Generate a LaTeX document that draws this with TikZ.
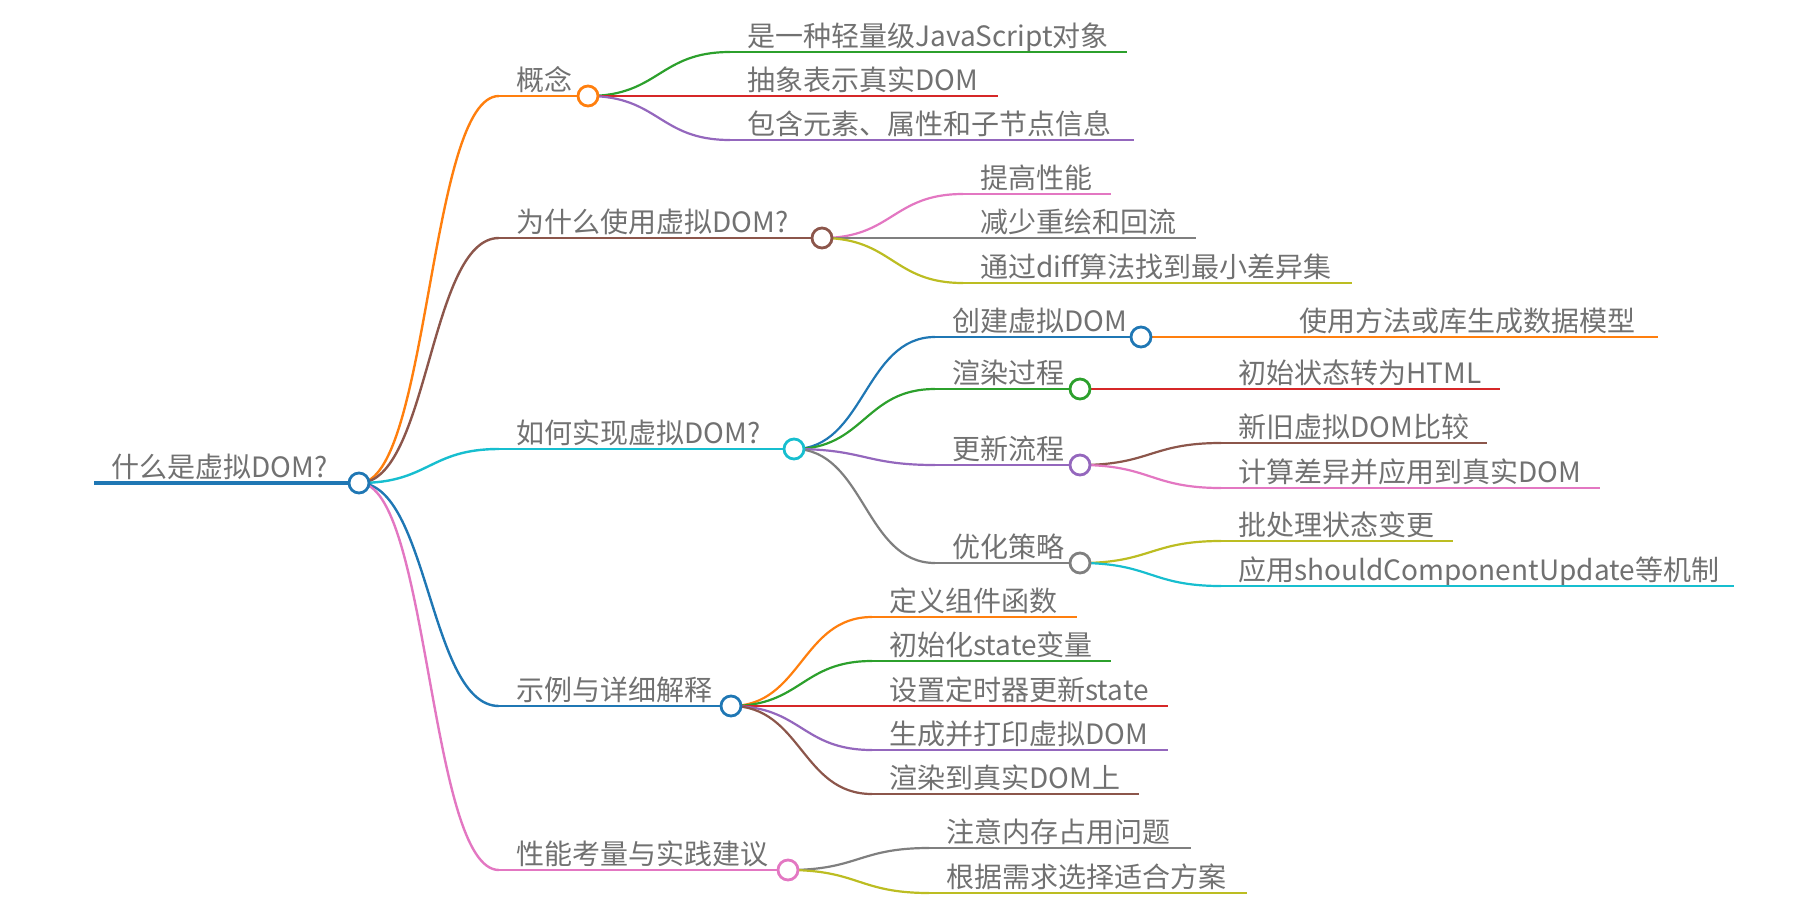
\documentclass[tikz,border=0pt]{standalone}
\usepackage{fontspec}
\newfontfamily\cjk{Noto Sans CJK SC}
\usetikzlibrary{calc,backgrounds}
\definecolor{cblue}{HTML}{1F77B4}
\definecolor{corange}{HTML}{FF7F0E}
\definecolor{cgreen}{HTML}{2CA02C}
\definecolor{cred}{HTML}{D62728}
\definecolor{cpurple}{HTML}{9467BD}
\definecolor{cbrown}{HTML}{8C564B}
\definecolor{cpink}{HTML}{E377C2}
\definecolor{cgray}{HTML}{7F7F7F}
\definecolor{colive}{HTML}{BCBD22}
\definecolor{ccyan}{HTML}{17BECF}
\definecolor{txtgray}{HTML}{717171}
\tikzset{
  lbl/.style={anchor=base west, inner sep=0pt, text=txtgray, font=\cjk\fontsize{14pt}{16pt}\selectfont},
  dot/.style={circle, draw=#1, fill=white, line width=1.4pt, minimum size=10pt, inner sep=0pt},
}
% hub: name, startx, circlex, y, color, width, text
\newcommand\hub[7]{%
  \coordinate (#1-s) at (#2,#4);
  \node[dot=#5] (#1) at (#3,#4) {};
  \node[lbl] (#1-t) at ({#2+17},{#4-6}) {#7};
  \begin{scope}[on background layer]
    \draw[#5, line width=#6] (#1-s) -- (#1.center);
  \end{scope}
}
% leaf: name, startx, endx, y, color, width, text
\newcommand\leaf[7]{%
  \coordinate (#1-s) at (#2,#4);
  \coordinate (#1-e) at (#3,#4);
  \node[lbl] (#1-t) at ({#2+17},{#4-6}) {#7};
  \draw[#5, line width=#6] (#1-s) -- (#1-e);
}
% link: parent, child, color, width
\newcommand\lnk[4]{%
  \begin{scope}[on background layer]
    \draw[#3, line width=#4] let \p1=(#1.center), \p2=(#2-s) in
      (\p1) .. controls ({0.5*\x1+0.5*\x2},\y1) and ({0.5*\x1+0.5*\x2},\y2) .. (\p2);
  \end{scope}
}
\begin{document}
\begin{tikzpicture}[x=0.5pt, y=-0.5pt]
\useasboundingbox (0,0) rectangle (1804,900);

% root
\hub{R}{94}{359}{483}{cblue}{1.7pt}{什么是虚拟DOM?}

% level 1
\hub{A}{499}{588}{96}{corange}{1.4pt}{概念}
\hub{B}{499}{822}{238}{cbrown}{1.4pt}{为什么使用虚拟DOM?}
\hub{C}{499}{794}{449}{ccyan}{1.4pt}{如何实现虚拟DOM?}
\hub{D}{499}{731}{706}{cblue}{1.4pt}{示例与详细解释}
\hub{E}{499}{788}{870}{cpink}{1.4pt}{性能考量与实践建议}
\lnk{R}{A}{corange}{1.2pt}
\lnk{R}{B}{cbrown}{1.2pt}
\lnk{R}{C}{ccyan}{1.2pt}
\lnk{R}{D}{cblue}{1.2pt}
\lnk{R}{E}{cpink}{1.2pt}

% under 概念
\leaf{A1}{730}{1127}{52}{cgreen}{1.15pt}{是一种轻量级JavaScript对象}
\leaf{A2}{730}{998}{96}{cred}{1.15pt}{抽象表示真实DOM}
\leaf{A3}{730}{1134}{140}{cpurple}{1.15pt}{包含元素、属性和子节点信息}
\lnk{A}{A1}{cgreen}{1.1pt}
\lnk{A}{A2}{cred}{1.1pt}
\lnk{A}{A3}{cpurple}{1.1pt}

% under 为什么使用虚拟DOM?
\leaf{B1}{963}{1111}{194}{cpink}{1.15pt}{提高性能}
\leaf{B2}{963}{1196}{238}{cgray}{1.15pt}{减少重绘和回流}
\leaf{B3}{963}{1352}{283}{colive}{1.15pt}{通过diff算法找到最小差异集}
\lnk{B}{B1}{cpink}{1.1pt}
\lnk{B}{B2}{cgray}{1.1pt}
\lnk{B}{B3}{colive}{1.1pt}

% under 如何实现虚拟DOM?
\hub{C1}{935}{1141}{337}{cblue}{1.15pt}{创建虚拟DOM}
\hub{C2}{935}{1080}{389}{cgreen}{1.15pt}{渲染过程}
\hub{C3}{935}{1080}{465}{cpurple}{1.15pt}{更新流程}
\hub{C4}{935}{1080}{563}{cgray}{1.15pt}{优化策略}
\lnk{C}{C1}{cblue}{1.1pt}
\lnk{C}{C2}{cgreen}{1.1pt}
\lnk{C}{C3}{cpurple}{1.1pt}
\lnk{C}{C4}{cgray}{1.1pt}

\leaf{C1a}{1282}{1658}{337}{corange}{1.15pt}{使用方法或库生成数据模型}
\leaf{C2a}{1221}{1500}{389}{cred}{1.15pt}{初始状态转为HTML}
\leaf{C3a}{1221}{1487}{443}{cbrown}{1.15pt}{新旧虚拟DOM比较}
\leaf{C3b}{1221}{1600}{488}{cpink}{1.15pt}{计算差异并应用到真实DOM}
\leaf{C4a}{1221}{1453}{541}{colive}{1.15pt}{批处理状态变更}
\leaf{C4b}{1221}{1734}{586}{ccyan}{1.15pt}{应用shouldComponentUpdate等机制}
\lnk{C1}{C1a}{corange}{1.1pt}
\lnk{C2}{C2a}{cred}{1.1pt}
\lnk{C3}{C3a}{cbrown}{1.1pt}
\lnk{C3}{C3b}{cpink}{1.1pt}
\lnk{C4}{C4a}{colive}{1.1pt}
\lnk{C4}{C4b}{ccyan}{1.1pt}

% under 示例与详细解释
\leaf{D1}{872}{1077}{617}{corange}{1.15pt}{定义组件函数}
\leaf{D2}{872}{1111}{661}{cgreen}{1.15pt}{初始化state变量}
\leaf{D3}{872}{1168}{706}{cred}{1.15pt}{设置定时器更新state}
\leaf{D4}{872}{1168}{750}{cpurple}{1.15pt}{生成并打印虚拟DOM}
\leaf{D5}{872}{1139}{794}{cbrown}{1.15pt}{渲染到真实DOM上}
\lnk{D}{D1}{corange}{1.1pt}
\lnk{D}{D2}{cgreen}{1.1pt}
\lnk{D}{D3}{cred}{1.1pt}
\lnk{D}{D4}{cpurple}{1.1pt}
\lnk{D}{D5}{cbrown}{1.1pt}

% under 性能考量与实践建议
\leaf{E1}{929}{1191}{848}{cgray}{1.15pt}{注意内存占用问题}
\leaf{E2}{929}{1247}{893}{colive}{1.15pt}{根据需求选择适合方案}
\lnk{E}{E1}{cgray}{1.1pt}
\lnk{E}{E2}{colive}{1.1pt}
\end{tikzpicture}
\end{document}
